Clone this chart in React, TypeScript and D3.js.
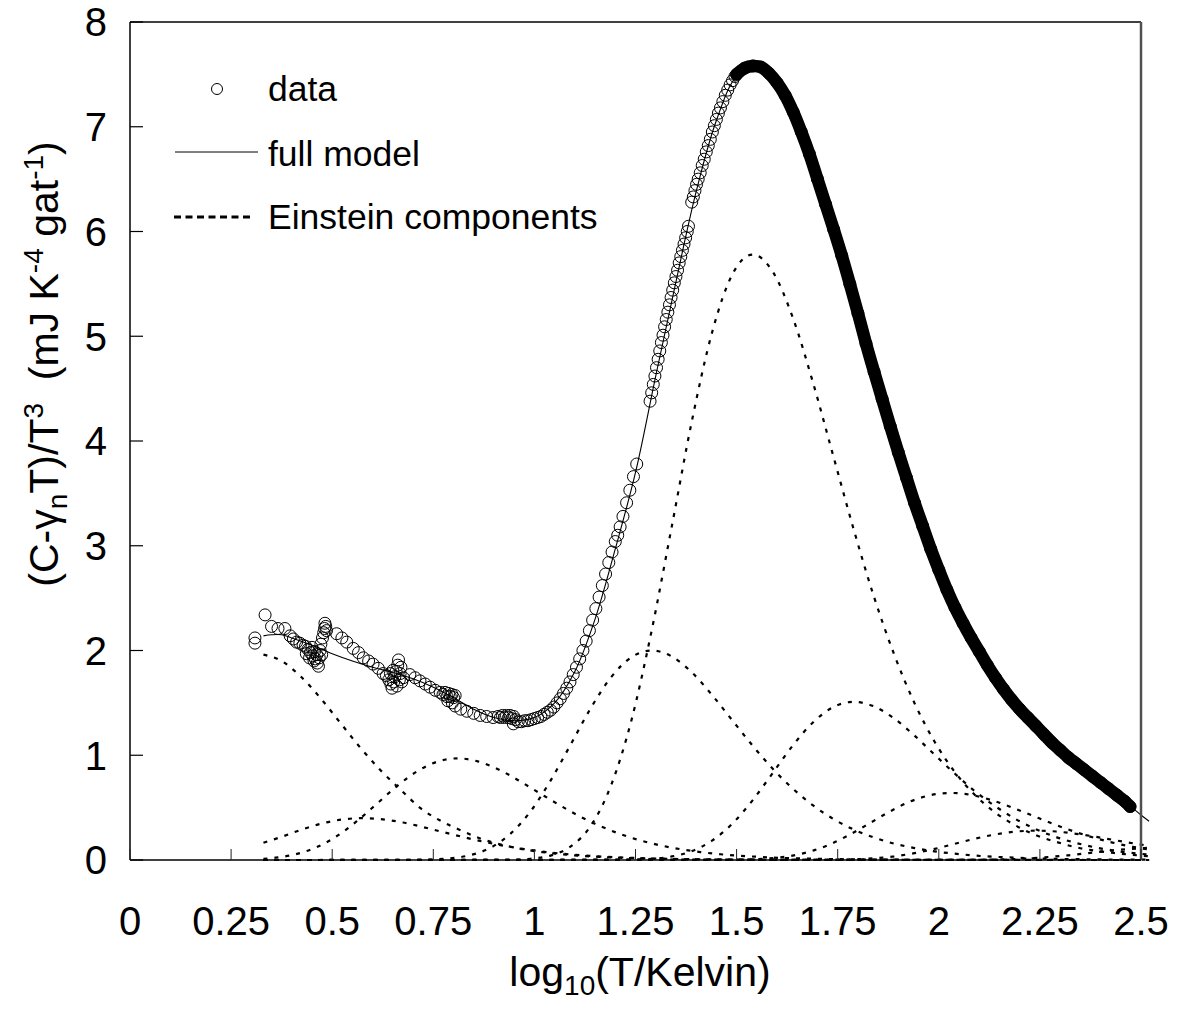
import React from "react";
import * as d3 from "d3";

// ---------- DATA ----------
const xTickValues = [0, 0.25, 0.5, 0.75, 1, 1.25, 1.5, 1.75, 2, 2.25, 2.5];
const xTickLabels = ["0", "0.25", "0.5", "0.75", "1", "1.25", "1.5", "1.75", "2", "2.25", "2.5"];
const yTickValues = [0, 1, 2, 3, 4, 5, 6, 7, 8];
const yTickLabels = ["0", "1", "2", "3", "4", "5", "6", "7", "8"];

// measured points, low temperature part
const dataLowT: [number, number][] = [
  [0.309, 2.07], [0.309, 2.12], [0.334, 2.34], [0.35, 2.23], [0.366, 2.21], [0.383, 2.21], [0.396, 2.14],
  [0.404, 2.11], [0.412, 2.08], [0.42, 2.07], [0.428, 2.05], [0.434, 2.04], [0.44, 2.01], [0.446, 1.98],
  [0.45, 2.03], [0.452, 1.95], [0.456, 1.99], [0.458, 1.92], [0.462, 1.96], [0.463, 1.88], [0.466, 1.85],
  [0.468, 1.93], [0.47, 2.0], [0.472, 2.06], [0.476, 2.12], [0.479, 2.17], [0.481, 2.21], [0.482, 2.26],
  [0.484, 2.23], [0.486, 2.19], [0.444, 1.93], [0.436, 1.97], [0.455, 1.9], [0.474, 1.96],
  [0.511, 2.16], [0.524, 2.12], [0.536, 2.08], [0.552, 2.02], [0.565, 1.98], [0.577, 1.93], [0.59, 1.9],
  [0.601, 1.87], [0.614, 1.83], [0.626, 1.78], [0.634, 1.76], [0.64, 1.72], [0.645, 1.68], [0.648, 1.64],
  [0.652, 1.7], [0.655, 1.75], [0.658, 1.8], [0.66, 1.66], [0.662, 1.86], [0.664, 1.91], [0.666, 1.72],
  [0.668, 1.78], [0.67, 1.84], [0.672, 1.7], [0.676, 1.74], [0.65, 1.81], [0.644, 1.78],
  [0.692, 1.77], [0.705, 1.74], [0.717, 1.71], [0.73, 1.68], [0.742, 1.65], [0.755, 1.62], [0.767, 1.6],
  [0.774, 1.58], [0.779, 1.6], [0.784, 1.56], [0.788, 1.59], [0.792, 1.56], [0.796, 1.58], [0.8, 1.55],
  [0.804, 1.57], [0.786, 1.52], [0.797, 1.5], [0.804, 1.47], [0.818, 1.44], [0.833, 1.42], [0.85, 1.4],
  [0.866, 1.38], [0.882, 1.37], [0.898, 1.36],
  [0.91, 1.37], [0.916, 1.36], [0.921, 1.38], [0.926, 1.36], [0.931, 1.38], [0.936, 1.36], [0.94, 1.38],
  [0.944, 1.35], [0.949, 1.37], [0.953, 1.34], [0.948, 1.3], [0.96, 1.32], [0.968, 1.32], [0.976, 1.33],
  [0.984, 1.33], [0.992, 1.34], [1.0, 1.35], [1.008, 1.36], [1.016, 1.37], [1.024, 1.39], [1.032, 1.41],
  [1.04, 1.43], [1.048, 1.46], [1.056, 1.5], [1.064, 1.54], [1.072, 1.59], [1.08, 1.64], [1.088, 1.7],
  [1.096, 1.77], [1.104, 1.84], [1.112, 1.92], [1.12, 2.0], [1.128, 2.09], [1.136, 2.19], [1.144, 2.29],
  [1.152, 2.4], [1.16, 2.51], [1.168, 2.62], [1.176, 2.73], [1.184, 2.84], [1.192, 2.94], [1.2, 3.04],
  [1.206, 3.1], [1.212, 3.18], [1.219, 3.28], [1.228, 3.41], [1.236, 3.53], [1.245, 3.66], [1.253, 3.78],
];

// measured points, steep rise
const dataRise: [number, number][] = [
  [1.286, 4.38], [1.29, 4.46], [1.294, 4.54], [1.298, 4.62], [1.302, 4.7], [1.306, 4.78], [1.31, 4.86],
  [1.314, 4.94], [1.318, 5.01], [1.322, 5.09], [1.326, 5.16], [1.33, 5.23], [1.334, 5.3], [1.338, 5.37],
  [1.342, 5.44], [1.346, 5.51], [1.35, 5.57], [1.354, 5.63], [1.358, 5.7], [1.362, 5.76], [1.366, 5.82],
  [1.37, 5.88], [1.374, 5.94], [1.378, 6.0], [1.381, 6.05],
  [1.389, 6.28], [1.393, 6.33], [1.397, 6.39], [1.401, 6.45], [1.405, 6.5], [1.41, 6.56], [1.415, 6.63],
  [1.42, 6.69], [1.425, 6.76], [1.43, 6.82], [1.435, 6.88], [1.44, 6.95], [1.445, 7.01], [1.45, 7.07],
  [1.455, 7.13], [1.46, 7.18], [1.466, 7.24], [1.472, 7.3], [1.478, 7.35], [1.484, 7.4], [1.49, 7.44],
  [1.496, 7.48],
];

// measured points, peak and high temperature part (very dense)
const dataBand: [number, number][] = [
  [1.5, 7.5], [1.52, 7.56], [1.54, 7.58], [1.56, 7.57], [1.58, 7.51], [1.6, 7.42], [1.62, 7.3],
  [1.64, 7.14], [1.66, 6.95], [1.68, 6.74], [1.7, 6.5], [1.72, 6.26], [1.74, 6.02], [1.76, 5.77],
  [1.78, 5.5], [1.8, 5.22], [1.82, 4.93], [1.84, 4.66], [1.86, 4.4], [1.88, 4.14], [1.9, 3.89],
  [1.92, 3.65], [1.94, 3.41], [1.96, 3.19], [1.98, 2.97], [2.0, 2.77], [2.02, 2.58], [2.04, 2.41],
  [2.06, 2.26], [2.08, 2.12], [2.1, 1.99], [2.12, 1.86], [2.14, 1.74], [2.16, 1.63], [2.18, 1.53],
  [2.2, 1.44], [2.22, 1.36], [2.24, 1.28], [2.26, 1.2], [2.28, 1.12], [2.3, 1.05], [2.32, 0.98],
  [2.34, 0.92], [2.36, 0.86], [2.38, 0.8], [2.4, 0.74], [2.42, 0.68], [2.44, 0.62], [2.46, 0.56],
  [2.473, 0.51],
];

// full model curve
const fullModel: [number, number][] = [
  [0.33, 2.14], [0.35, 2.15], [0.375, 2.15], [0.4, 2.12], [0.45, 2.05], [0.5, 1.97], [0.55, 1.9],
  [0.6, 1.84], [0.65, 1.79], [0.7, 1.73], [0.75, 1.65], [0.8, 1.55], [0.85, 1.44], [0.9, 1.36],
  [0.95, 1.33], [1.0, 1.36], [1.05, 1.5], [1.1, 1.8], [1.15, 2.3], [1.2, 2.97], [1.25, 3.7],
  [1.3, 4.62], [1.35, 5.52], [1.4, 6.38], [1.45, 7.06], [1.5, 7.48], [1.55, 7.58], [1.6, 7.42],
  [1.65, 7.05], [1.7, 6.5], [1.75, 5.9], [1.8, 5.22], [1.85, 4.53], [1.9, 3.89], [1.95, 3.3],
  [2.0, 2.77], [2.05, 2.33], [2.1, 1.99], [2.15, 1.68], [2.2, 1.44], [2.25, 1.24], [2.3, 1.05],
  [2.35, 0.89], [2.4, 0.74], [2.45, 0.59], [2.5, 0.43], [2.52, 0.37],
];

// Einstein components
const einsteinA: [number, number][] = [
  [0.33, 1.96], [0.37, 1.91], [0.42, 1.76], [0.47, 1.55], [0.52, 1.31], [0.57, 1.07], [0.62, 0.855],
  [0.67, 0.668], [0.72, 0.49], [0.77, 0.37], [0.82, 0.28], [0.87, 0.2], [0.92, 0.145], [0.97, 0.104],
  [1.02, 0.075], [1.07, 0.054], [1.12, 0.039], [1.17, 0.028], [1.22, 0.02], [1.27, 0.014], [1.32, 0.01],
  [1.42, 0.005], [1.52, 0.003], [1.72, 0.001], [2.52, 0],
];
const einsteinB: [number, number][] = [
  [0.33, 0.165], [0.375, 0.221], [0.425, 0.291], [0.475, 0.349], [0.525, 0.387], [0.575, 0.4],
  [0.625, 0.388], [0.675, 0.358], [0.725, 0.314], [0.775, 0.266], [0.825, 0.218], [0.875, 0.174],
  [0.925, 0.136], [0.975, 0.104], [1.025, 0.078], [1.075, 0.058], [1.125, 0.043], [1.175, 0.031],
  [1.225, 0.023], [1.275, 0.016], [1.325, 0.012], [1.375, 0.0085], [1.475, 0.0044], [1.575, 0.0022],
  [1.775, 0.0008], [2.52, 0],
];
const einsteinC: [number, number][] = [
  [0.33, 0.011], [0.36, 0.022], [0.41, 0.055], [0.46, 0.12], [0.51, 0.224], [0.56, 0.368], [0.61, 0.535],
  [0.66, 0.705], [0.71, 0.847], [0.76, 0.939], [0.81, 0.97], [0.86, 0.942], [0.91, 0.867], [0.96, 0.762],
  [1.01, 0.645], [1.06, 0.529], [1.11, 0.421], [1.16, 0.329], [1.21, 0.251], [1.26, 0.189], [1.31, 0.141],
  [1.36, 0.104], [1.41, 0.076], [1.46, 0.055], [1.51, 0.04], [1.56, 0.029], [1.61, 0.02], [1.66, 0.015],
  [1.71, 0.011], [1.76, 0.0076], [1.81, 0.0053], [1.91, 0.0027], [2.01, 0.0014], [2.52, 0],
];
const einsteinD: [number, number][] = [
  [0.33, 0], [0.69, 0.001], [0.74, 0.004], [0.79, 0.015], [0.84, 0.045], [0.89, 0.114], [0.94, 0.248],
  [0.99, 0.462], [1.04, 0.758], [1.09, 1.104], [1.14, 1.454], [1.19, 1.746], [1.24, 1.936], [1.29, 2.0],
  [1.34, 1.942], [1.39, 1.788], [1.44, 1.572], [1.49, 1.33], [1.54, 1.09], [1.59, 0.868], [1.64, 0.678],
  [1.69, 0.518], [1.74, 0.39], [1.79, 0.29], [1.84, 0.214], [1.89, 0.156], [1.94, 0.114], [1.99, 0.082],
  [2.04, 0.06], [2.09, 0.042], [2.14, 0.03], [2.19, 0.022], [2.24, 0.0156], [2.29, 0.011], [2.39, 0.0056],
  [2.52, 0.0025],
];
const einsteinE: [number, number][] = [
  [0.33, 0], [0.94, 0.002], [0.99, 0.012], [1.04, 0.042], [1.09, 0.13], [1.14, 0.329], [1.19, 0.717],
  [1.24, 1.335], [1.29, 2.191], [1.34, 3.19], [1.39, 4.202], [1.44, 5.046], [1.49, 5.595], [1.54, 5.78],
  [1.59, 5.612], [1.64, 5.167], [1.69, 4.543], [1.74, 3.844], [1.79, 3.15], [1.84, 2.509], [1.89, 1.959],
  [1.94, 1.497], [1.99, 1.127], [2.04, 0.838], [2.09, 0.618], [2.14, 0.451], [2.19, 0.329], [2.24, 0.237],
  [2.29, 0.173], [2.34, 0.121], [2.39, 0.087], [2.44, 0.064], [2.49, 0.045], [2.52, 0.037],
];
const einsteinF: [number, number][] = [
  [0.33, 0], [1.19, 0.0006], [1.24, 0.003], [1.29, 0.011], [1.34, 0.034], [1.39, 0.086], [1.44, 0.187],
  [1.49, 0.349], [1.54, 0.572], [1.59, 0.834], [1.64, 1.098], [1.69, 1.318], [1.74, 1.462], [1.79, 1.51],
  [1.84, 1.466], [1.89, 1.35], [1.94, 1.187], [1.99, 1.004], [2.04, 0.823], [2.09, 0.655], [2.14, 0.512],
  [2.19, 0.391], [2.24, 0.294], [2.29, 0.219], [2.34, 0.162], [2.39, 0.118], [2.44, 0.086], [2.49, 0.062],
  [2.52, 0.052],
];
const einsteinG: [number, number][] = [
  [0.33, 0], [1.48, 0.0013], [1.53, 0.0047], [1.58, 0.0144], [1.63, 0.0365], [1.68, 0.079], [1.73, 0.148],
  [1.78, 0.243], [1.83, 0.353], [1.88, 0.465], [1.93, 0.559], [1.98, 0.62], [2.03, 0.64], [2.08, 0.621],
  [2.13, 0.572], [2.18, 0.503], [2.23, 0.426], [2.28, 0.349], [2.33, 0.278], [2.38, 0.217], [2.43, 0.166],
  [2.48, 0.125], [2.52, 0.1],
];
const einsteinH: [number, number][] = [
  [0.33, 0], [1.69, 0.0006], [1.74, 0.002], [1.79, 0.0063], [1.84, 0.016], [1.89, 0.035], [1.94, 0.065],
  [1.99, 0.106], [2.04, 0.155], [2.09, 0.204], [2.14, 0.244], [2.19, 0.271], [2.24, 0.28], [2.29, 0.272],
  [2.34, 0.25], [2.39, 0.22], [2.44, 0.186], [2.49, 0.153], [2.52, 0.135],
];
const einsteinI: [number, number][] = [
  [0.33, 0], [2.07, 0.001], [2.12, 0.003], [2.17, 0.007], [2.22, 0.015], [2.27, 0.028], [2.32, 0.045],
  [2.37, 0.066], [2.42, 0.087], [2.47, 0.105], [2.52, 0.116],
];

const components = [einsteinA, einsteinB, einsteinC, einsteinD, einsteinE, einsteinF, einsteinG, einsteinH, einsteinI];
const legendLabels = ["data", "full model", "Einstein components"];

// ---------- LAYOUT ----------
const W = 1181;
const H = 1010;
const FONT = "'Liberation Sans', Arial, Helvetica, sans-serif";

export default function App() {
  const x = d3.scaleLinear().domain([0, 2.5]).range([130, 1141]);
  const y = d3.scaleLinear().domain([0, 8]).range([860, 22]);

  const compLine = d3
    .line<[number, number]>()
    .x((d) => x(d[0]))
    .y((d) => y(d[1]))
    .curve(d3.curveMonotoneX);
  const smoothLine = d3
    .line<[number, number]>()
    .x((d) => x(d[0]))
    .y((d) => y(d[1]))
    .curve(d3.curveCatmullRom.alpha(0.5));

  const allData = [...dataLowT, ...dataRise, ...dataBand];
  const [x0, x1] = x.range();
  const [y0, y1] = y.range();

  return (
    <svg
      width={W}
      height={H}
      viewBox={`0 0 ${W} ${H}`}
      style={{ position: "absolute", left: 0, top: 0, background: "#fff" }}
      fontFamily={FONT}
    >
      <rect x={0} y={0} width={W} height={H} fill="#fff" />

      {/* Einstein components */}
      <g fill="none" stroke="#000" strokeWidth={2.2} strokeDasharray="4 7">
        {components.map((c, i) => (
          <path key={i} d={compLine(c) || ""} />
        ))}
      </g>

      {/* dense band of overlapping markers */}
      <path
        d={smoothLine(dataBand) || ""}
        fill="none"
        stroke="#000"
        strokeWidth={12.5}
        strokeLinecap="round"
        strokeLinejoin="round"
      />

      {/* full model */}
      <path d={smoothLine(fullModel) || ""} fill="none" stroke="#000" strokeWidth={1.1} />

      {/* data */}
      <g fill="none" stroke="#000" strokeWidth={1}>
        {allData.map((d, i) => (
          <circle key={i} cx={x(d[0])} cy={y(d[1])} r={6} />
        ))}
      </g>

      {/* frame */}
      <line x1={x0} x2={x1} y1={y1} y2={y1} stroke="#000" strokeWidth={1.5} />
      <line x1={x1} x2={x1} y1={y1} y2={y0} stroke="#505050" strokeWidth={2.5} />
      <line x1={x0} x2={x0} y1={y1} y2={y0} stroke="#000" strokeWidth={1.5} />
      <line x1={x0} x2={x1} y1={y0} y2={y0} stroke="#000" strokeWidth={1.5} />

      {/* x ticks */}
      {xTickValues.map((v, i) => (
        <g key={"xt" + i}>
          <line x1={x(v)} x2={x(v)} y1={y0} y2={y0 - 11} stroke="#222" strokeWidth={1} />
          <text x={x(v)} y={935} textAnchor="middle" fontSize={40} fill="#000">
            {xTickLabels[i]}
          </text>
        </g>
      ))}
      {/* y ticks */}
      {yTickValues.map((v, i) => (
        <g key={"yt" + i}>
          <line x1={x0} x2={x0 + 13} y1={y(v)} y2={y(v)} stroke="#000" strokeWidth={1.2} />
          <text x={107} y={y(v)} dy="0.36em" textAnchor="end" fontSize={40} fill="#000">
            {yTickLabels[i]}
          </text>
        </g>
      ))}

      {/* axis titles */}
      <text x={640} y={986} textAnchor="middle" fontSize={41} fill="#000">
        log<tspan dy={9} fontSize={28}>10</tspan>
        <tspan dy={-9}>(T/Kelvin)</tspan>
      </text>
      <text transform="translate(58,364) rotate(-90)" textAnchor="middle" fontSize={41} fill="#000">
        (C-γ<tspan dy={9} fontSize={28}>n</tspan>
        <tspan dy={-9}>T)/T</tspan>
        <tspan dy={-15} fontSize={28}>3</tspan>
        <tspan dy={15}>{"\u00a0\u00a0(mJ K"}</tspan>
        <tspan dy={-15} fontSize={28}>-4</tspan>
        <tspan dy={15}>{"\u00a0gat"}</tspan>
        <tspan dy={-15} fontSize={28}>-1</tspan>
        <tspan dy={15}>)</tspan>
      </text>

      {/* legend */}
      <circle cx={217} cy={89} r={5.5} fill="none" stroke="#000" strokeWidth={1} />
      <text x={268} y={101} fontSize={35.5} fill="#000">{legendLabels[0]}</text>
      <line x1={175} x2={258} y1={152} y2={152} stroke="#000" strokeWidth={1} />
      <text x={268} y={166} fontSize={35.5} fill="#000">{legendLabels[1]}</text>
      <line x1={174} x2={250} y1={217} y2={217} stroke="#000" strokeWidth={3} strokeDasharray="7 4.5" />
      <text x={268} y={229} fontSize={35.5} fill="#000">{legendLabels[2]}</text>
    </svg>
  );
}
